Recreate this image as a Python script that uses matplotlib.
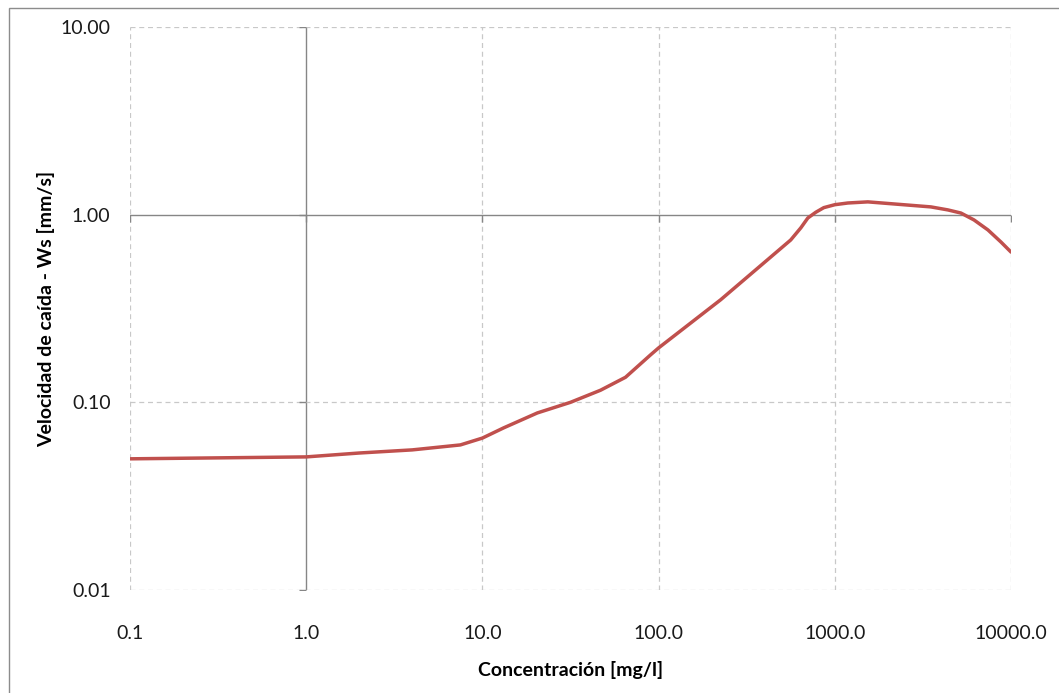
import matplotlib.pyplot as plt
import matplotlib.patches as patches

# concentration [mg/l] and settling velocity [mm/s]
conc = [0.1, 1.0, 2.0, 4.0, 7.5, 10.0, 13.2, 20.5, 31.6, 46.8, 64.9, 90.0,
        100.0, 225.0, 562.0, 641.0, 703.0, 780.0, 866.0, 1000.0, 1186.0,
        1540.0, 3510.0, 4385.0, 5200.0, 6170.0, 7400.0, 8770.0, 10000.0]
ws = [0.050, 0.0512, 0.0537, 0.0558, 0.0593, 0.0645, 0.0731, 0.0878, 0.100,
      0.116, 0.136, 0.179, 0.195, 0.352, 0.733, 0.850, 0.960, 1.03, 1.09,
      1.13, 1.154, 1.17, 1.10, 1.06, 1.02, 0.937, 0.829, 0.715, 0.632]

xticks = [0.1, 1.0, 10.0, 100.0, 1000.0, 10000.0]
xlabels = ['0.1', '1.0', '10.0', '100.0', '1000.0', '10000.0']
yticks = [0.01, 0.1, 1.0, 10.0]
ylabels = ['0.01', '0.10', '1.00', '10.00']

plt.rcParams['font.family'] = ['Lato', 'DejaVu Sans']

fig = plt.figure(figsize=(10.59, 6.93), dpi=100)
ax = fig.add_axes([130 / 1059, 1 - 590 / 693, 881 / 1059, 563 / 693])

# outer chart border (only top and left visible in the crop)
fig.patches.append(patches.Rectangle((9 / 1059, -0.1), 1.2, 1 - 8 / 693 + 0.1,
                                     transform=fig.transFigure, fill=False,
                                     edgecolor='#8c8c8c', linewidth=1))

ax.set_xscale('log')
ax.set_yscale('log')
ax.set_xlim(0.1, 10000)
ax.set_ylim(0.01, 10)

# dashed gridlines, solid axis lines crossing at 1
for xv in xticks:
    if xv == 1.0:
        ax.axvline(xv, color='#868686', linewidth=1, zorder=1)
    else:
        ax.axvline(xv, color='#c8c8c8', linewidth=0.9, linestyle=(0, (4, 3)), zorder=1)
for yv in yticks:
    if yv == 1.0:
        ax.axhline(yv, color='#868686', linewidth=1, zorder=1)
    else:
        ax.axhline(yv, color='#c8c8c8', linewidth=0.9, linestyle=(0, (4, 3)), zorder=1)

# small tick marks on the axis lines
ax.plot([1.0] * len(yticks), yticks, linestyle='none', marker=0, markersize=5,
        color='#868686', markeredgewidth=1, zorder=2)
ax.plot(xticks, [1.0] * len(xticks), linestyle='none', marker=3, markersize=5,
        color='#868686', markeredgewidth=1, zorder=2)

ax.plot(conc, ws, color='#c0504d', linewidth=2.5, solid_capstyle='round',
        solid_joinstyle='round', zorder=3)

for s in ax.spines.values():
    s.set_visible(False)

ax.set_xticks(xticks)
ax.set_xticklabels(xlabels)
ax.set_yticks(yticks)
ax.set_yticklabels(ylabels)
ax.minorticks_off()
ax.tick_params(axis='both', length=0, labelsize=14, colors='#1a1a1a')
ax.tick_params(axis='x', pad=25)
ax.tick_params(axis='y', pad=14)

ax.set_xlabel('Concentración [mg/l]', fontsize=14, fontweight='bold', labelpad=14)
ax.set_ylabel('Velocidad de caída - Ws [mm/s]', fontsize=14, fontweight='bold', labelpad=4)

plt.savefig('out.png', dpi=100)
